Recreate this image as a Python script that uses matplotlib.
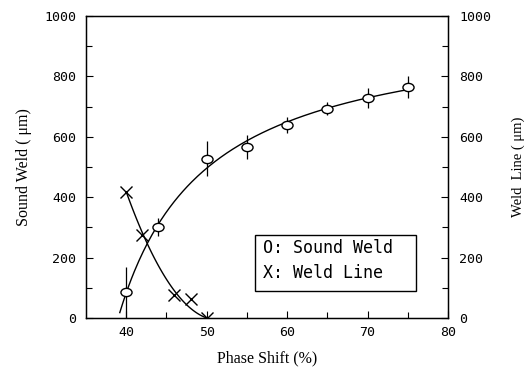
import numpy as np
import matplotlib
matplotlib.use("Agg")
import matplotlib.pyplot as plt
from matplotlib.path import Path
from matplotlib.transforms import Affine2D
from matplotlib.patches import Rectangle

# Sound Weld (O), left axis
sound_x = [40, 44, 50, 55, 60, 65, 70, 75]
sound_y = [85, 302, 528, 565, 640, 693, 728, 766]
sound_err = [85, 30, 58, 40, 27, 22, 34, 36]

# Weld Line (X), right axis
line_x = [40, 42, 46, 48, 50]
line_y = [418, 275, 75, 62, 0]

x_ticks = [40, 50, 60, 70, 80]
y_ticks = [0, 200, 400, 600, 800, 1000]

tick_font = {"family": "DejaVu Sans Mono", "size": 9.5}
label_font = {"family": "Liberation Serif", "size": 11.5}
box_font = {"family": "DejaVu Sans Mono", "size": 12}

# ellipse marker, a bit wider than tall
ellipse = Affine2D().scale(1.35, 1.0).transform_path(Path.unit_circle())

fig = plt.figure(figsize=(5.28, 3.74), dpi=100)
ax = fig.add_axes([86 / 528, 56 / 374, 362 / 528, 302 / 374])
ax2 = ax.twinx()

# saturation fit y = V*u/(K+u), u = x - 39, fitted to the sound weld points
sx = np.array(sound_x, dtype=float)
sy = np.array(sound_y, dtype=float)
u = sx - 39.0
best = None
for K in np.linspace(2, 40, 381):
    g = u / (K + u)
    V = g.dot(sy) / g.dot(g)
    r = np.sum((sy - V * g) ** 2)
    if best is None or r < best[0]:
        best = (r, K, V)
_, K, V = best
fx = np.linspace(39.2, 75.5, 200)
ax.plot(fx, V * (fx - 39.0) / (K + fx - 39.0), color="black", lw=1.0)

# weld line: quadratic fit, end points held
c = np.polyfit(line_x, line_y, 2, w=[10, 1, 1, 1, 10])
lx = np.linspace(40, 50, 100)
ax2.plot(lx, np.clip(np.polyval(c, lx), 0, None), color="black", lw=1.0)

ax.errorbar(sound_x, sound_y, yerr=sound_err, fmt="none", ecolor="black",
            elinewidth=0.9, capsize=0)
ax.plot(sound_x, sound_y, linestyle="none", marker=ellipse, markersize=8,
        mfc="white", mec="black", mew=1.0)
ax2.plot(line_x, line_y, linestyle="none", marker="x", markersize=8,
         color="black", mew=1.0)

for a_ in (ax, ax2):
    a_.set_xlim(35, 80)
    a_.set_ylim(0, 1000)
    a_.set_yticks(y_ticks)
    a_.set_yticks(np.arange(0, 1001, 100), minor=True)
    a_.tick_params(which="both", direction="in", length=5, width=0.8, color="black")
    a_.tick_params(which="minor", length=4)

ax.set_xticks(x_ticks)
ax.set_xticks(np.arange(40, 81, 5), minor=True)
ax.tick_params(axis="x", which="both", top=False, pad=6)
ax.tick_params(axis="y", which="both", right=False, pad=7)
ax2.tick_params(axis="y", which="both", left=False, pad=8)

ax.set_xticklabels([str(v) for v in x_ticks], fontdict=tick_font)
ax.set_yticklabels([str(v) for v in y_ticks], fontdict=tick_font)
ax2.set_yticklabels([str(v) for v in y_ticks], fontdict=tick_font)

ax.set_xlabel("Phase Shift (%)", fontdict=label_font, labelpad=8)
ax.set_ylabel("Sound Weld ( \u03bcm)", fontdict=label_font, labelpad=9)
ax2.set_ylabel("Weld  Line ( \u03bcm)",
               fontdict={"family": "Liberation Serif", "size": 10.5},
               labelpad=15, rotation=90)

for sp in ax.spines.values():
    sp.set_linewidth(1.0)

# legend box drawn as text
ax.add_patch(Rectangle((0.467, 0.089), 0.445, 0.186, transform=ax.transAxes,
                       fill=False, edgecolor="black", lw=1.0, zorder=5))
ax.text(0.489, 0.232, "O: Sound Weld", transform=ax.transAxes, va="center",
        fontdict=box_font)
ax.text(0.489, 0.149, "X: Weld Line", transform=ax.transAxes, va="center",
        fontdict=box_font)

fig.savefig("out.png", dpi=100)
